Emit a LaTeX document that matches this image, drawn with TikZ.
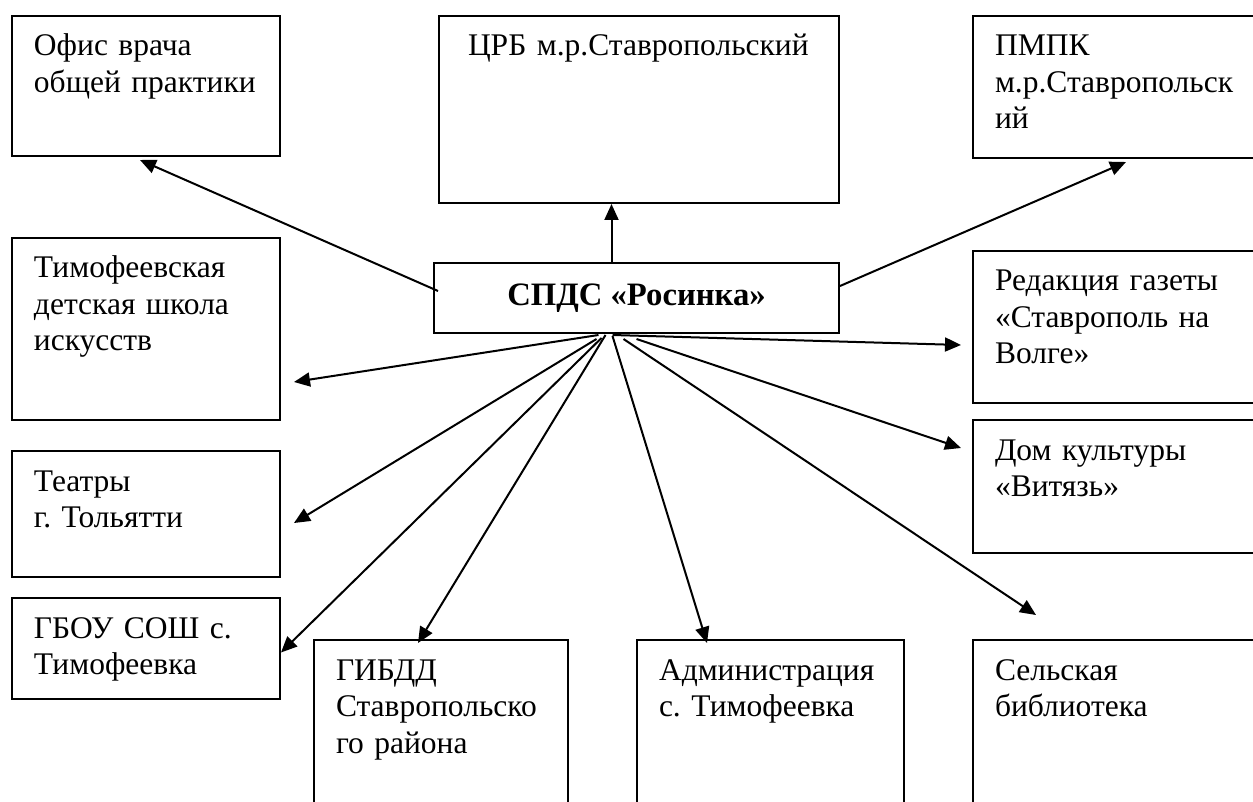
\documentclass[tikz,border=0pt]{standalone}
\usepackage{fontspec}
\setmainfont{Liberation Serif}
\usepackage{tikz}
\usetikzlibrary{arrows.meta,calc}

\begin{document}
\begin{tikzpicture}[x=1pt, y=-1pt,
    org/.style={draw, line width=2pt, anchor=north west, align=left,
      inner xsep=22pt, inner ysep=0pt, text height=40pt,
      font=\fontsize{31.5}{36.5}\selectfont},
    link/.style={-{Triangle[length=16pt,width=14pt]}, line width=2pt}]
    \path[use as bounding box, clip] (0,0) rectangle (1253,802);
    \node[draw, line width=2pt, anchor=north west, minimum width=405pt, minimum height=70pt,
      font=\fontsize{32.7}{38}\selectfont\bfseries] (spds) at (433,262) {СПДС «Росинка»};
    \node[org, text width=224pt, text depth=100pt] (ofis) at (11,15) {Офис~врача\\общей~практики};
    \node[org, inner xsep=29pt, text width=342pt, text depth=147pt] (crb) at (438,15) {ЦРБ~м.р.Ставропольский};
    \node[org, text width=256pt, text depth=102pt] (pmpk) at (972,15) {ПМПК\\м.р.Ставропольск\\ий};
    \node[org, text width=224pt, text depth=142pt] (shkola) at (11,237) {Тимофеевская\\детская~школа\\искусств};
    \node[org, text width=256pt, text depth=112pt] (redakciya) at (972,250) {Редакция~газеты\\«Ставрополь~на\\Волге»};
    \node[org, text width=224pt, text depth=86pt] (teatry) at (11,450) {Театры\\г.~Тольятти};
    \node[org, text width=256pt, text depth=93pt] (dk) at (972,419) {Дом~культуры\\«Витязь»};
    \node[org, text width=224pt, text depth=61pt] (gbou) at (11,597) {ГБОУ~СОШ~с.\\Тимофеевка};
    \node[org, text width=210pt, text depth=160pt] (gibdd) at (313,639) {ГИБДД\\Ставропольско\\го~района};
    \node[org, text width=223pt, text depth=160pt] (admin) at (636,639) {Администрация\\с.~Тимофеевка};
    \node[org, text width=256pt, text depth=160pt] (biblio) at (972,639) {Сельская\\библиотека};
    \draw[link] ($(spds.west)+(5,-7)$) -- ($(ofis.south)+(-6,3)$);
    \draw[link] ($(spds.north)+(-25,0)$) coordinate (up) -- (up |- crb.south);
    \draw[link] ($(spds.east)+(0,-12)$) -- ($(pmpk.south)+(3,3)$);
    \draw[link] ($(spds.south)+(-24,1)$) -- ($(redakciya.south west)+(-11,-59)$);
    \draw[link] ($(spds.south)+(0,5)$) -- ($(dk.north west)+(-11,29)$);
    \draw[link] ($(spds.south)+(-13,5)$) -- ($(biblio.north west)+(64,-24)$);
    \draw[link] ($(spds.south)+(-24,2)$) -- ($(admin.north west)+(71,4)$);
    \draw[link] ($(spds.south)+(-31,1)$) -- ($(gibdd.north west)+(105,4)$);
    \draw[link] ($(spds.south)+(-35,4)$) -- ($(gbou.east)+(0,4)$);
    \draw[link] ($(spds.south)+(-40,5)$) -- ($(teatry.east)+(13,9)$);
    \draw[link] ($(spds.south)+(-38,1)$) -- ($(shkola.south east)+(13,-39)$);
\end{tikzpicture}
\end{document}
